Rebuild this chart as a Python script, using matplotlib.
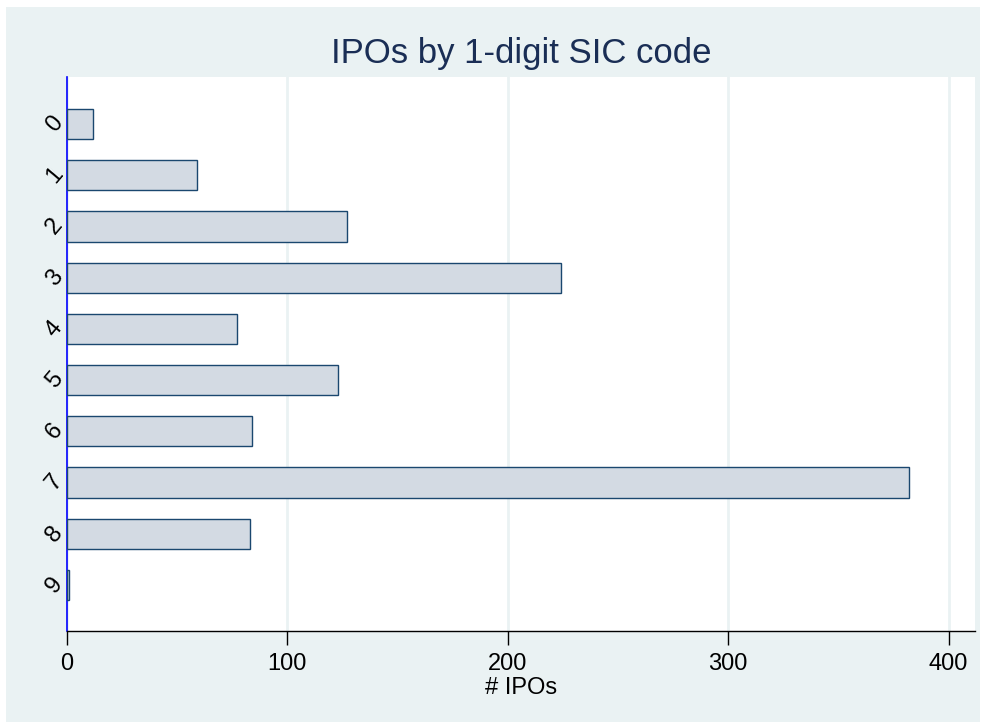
import matplotlib
matplotlib.use("Agg")
import matplotlib.pyplot as plt
from matplotlib.patches import Rectangle

categories = ["0", "1", "2", "3", "4", "5", "6", "7", "8", "9"]
ipos = [12, 59, 127, 224, 77, 123, 84, 382, 83, 1]
xticks = [0, 100, 200, 300, 400]

plt.rcParams['font.family'] = ['Liberation Sans', 'DejaVu Sans']

W, H = 986, 725
fig = plt.figure(figsize=(W / 100, H / 100), dpi=100)
fig.patch.set_facecolor('white')
bg = '#EAF2F3'
fig.patches.append(Rectangle((6 / W, 3 / H), (980 - 6) / W, (722 - 7) / H,
                             transform=fig.transFigure, facecolor=bg,
                             edgecolor='none', zorder=-10))

ax = fig.add_axes([67 / W, (H - 631) / H, (975 - 67) / W, (631 - 77) / H])
ax.set_zorder(1)
ax.set_facecolor('white')

pos = list(range(len(categories)))
ax.barh(pos, ipos, height=0.59, color='#D3DAE3', edgecolor='#1A476F',
        linewidth=1.0, zorder=3)

ax.set_ylim(9.9, -0.92)
ax.set_xlim(0, 412)
ax.set_xticks(xticks)
ax.set_xticklabels([str(t) for t in xticks], fontsize=17)
ax.set_yticks(pos)
ax.set_yticklabels(categories, fontsize=17, rotation=50, va='center', ha='center')
ax.tick_params(axis='y', length=0, pad=9)
ax.tick_params(axis='x', length=10, width=1, color='black', pad=6)

ax.grid(axis='x', color='#EAF2F3', linewidth=2, zorder=1)
ax.set_axisbelow(True)

for s in ['top', 'right']:
    ax.spines[s].set_visible(False)
ax.spines['left'].set_color('#0000FF')
ax.spines['left'].set_linewidth(1.2)
ax.spines['bottom'].set_color('black')
ax.spines['bottom'].set_linewidth(1.0)

ax.set_xlabel('# IPOs', fontsize=17, labelpad=1)
ax.set_title('IPOs by 1-digit SIC code', fontsize=25, color='#1A2E55', pad=10)

fig.savefig('out.png', dpi=100)
